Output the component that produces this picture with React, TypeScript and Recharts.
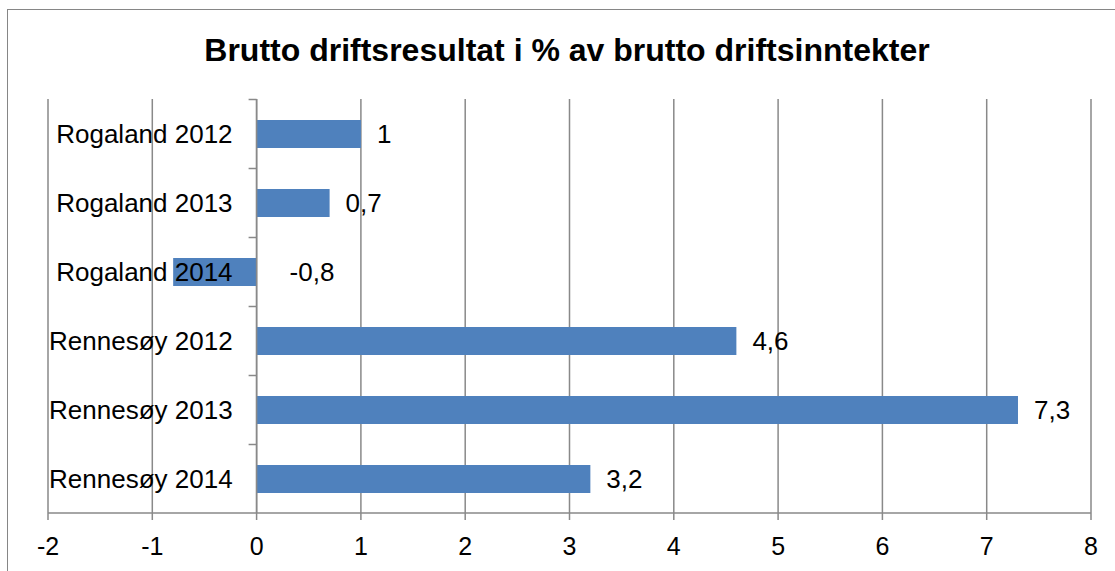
import React from 'react';
import {
  BarChart,
  Bar,
  XAxis,
  YAxis,
  CartesianGrid,
  ReferenceLine,
  LabelList,
} from 'recharts';

const categories = [
  'Rogaland 2012',
  'Rogaland 2013',
  'Rogaland 2014',
  'Rennesøy 2012',
  'Rennesøy 2013',
  'Rennesøy 2014',
];
const values = [1, 0.7, -0.8, 4.6, 7.3, 3.2];
const xTicks = [-2, -1, 0, 1, 2, 3, 4, 5, 6, 7, 8];

const title = 'Brutto driftsresultat i % av brutto driftsinntekter';

const CHART_W = 1115;
const CHART_H = 571;
const MARGIN = { top: 99, right: 24, bottom: 18, left: 48 };
const X_AXIS_H = 40;
const BAND = (CHART_H - MARGIN.top - MARGIN.bottom - X_AXIS_H) / categories.length;

const FONT = '"Liberation Sans", Arial, sans-serif';
const GRID = '#898989';
const BLUE = '#4F81BD';
const LABEL_SIZE = 26;

const data = categories.map((name, i) => ({ name, value: values[i] }));

const formatNo = (v: number) => String(v).replace('.', ',');

// category name drawn left of the zero line, on top of the bars (like Excel)
const CategoryLabel = (props: any) => {
  const { x, y, height, value } = props;
  const cy = y + height / 2;
  const bandTop = cy - BAND / 2;
  return (
    <g>
      <line x1={x - 8} x2={x} y1={bandTop} y2={bandTop} stroke={GRID} strokeWidth={1.5} />
      <text
        x={x - 24}
        y={cy + LABEL_SIZE * 0.34}
        textAnchor="end"
        fontSize={LABEL_SIZE}
        fontFamily={FONT}
        fill="#000"
      >
        {value}
      </text>
    </g>
  );
};

const ValueLabel = (props: any) => {
  const { x, y, width, height, value } = props;
  const cy = y + height / 2;
  const tx = value < 0 ? x + 33 : Math.max(x, x + width) + 16;
  return (
    <text
      x={tx}
      y={cy + LABEL_SIZE * 0.34}
      textAnchor="start"
      fontSize={LABEL_SIZE}
      fontFamily={FONT}
      fill="#000"
    >
      {formatNo(value)}
    </text>
  );
};

export default function App() {
  return (
    <div
      style={{
        position: 'absolute',
        left: 0,
        top: 0,
        width: CHART_W,
        height: CHART_H,
        overflow: 'hidden',
        background: '#fff',
        fontFamily: FONT,
      }}
    >
      <div
        style={{
          position: 'absolute',
          left: 7,
          top: 9,
          width: 1130,
          height: 620,
          border: '1px solid #868686',
          boxSizing: 'border-box',
        }}
      />
      <div
        style={{
          position: 'absolute',
          left: 567,
          top: 35,
          transform: 'translateX(-50%)',
          whiteSpace: 'nowrap',
          fontSize: 32,
          lineHeight: '30px',
          fontWeight: 'bold',
          color: '#000',
        }}
      >
        {title}
      </div>
      <div style={{ position: 'absolute', left: 0, top: 0 }}>
        <BarChart
          width={CHART_W}
          height={CHART_H}
          data={data}
          layout="vertical"
          margin={MARGIN}
        >
          <CartesianGrid horizontal={false} stroke={GRID} strokeWidth={1.5} />
          <XAxis
            type="number"
            domain={[-2, 8]}
            ticks={xTicks}
            interval={0}
            height={X_AXIS_H}
            axisLine={{ stroke: GRID, strokeWidth: 1.5 }}
            tickLine={{ stroke: GRID, strokeWidth: 1.5 }}
            tickSize={7}
            tickMargin={17}
            tick={{ fontSize: 25, fill: '#000', fontFamily: FONT }}
          />
          <YAxis type="category" dataKey="name" hide />
          <ReferenceLine x={0} stroke={GRID} strokeWidth={1.5} />
          <Bar dataKey="value" fill={BLUE} barSize={28} isAnimationActive={false}>
            <LabelList dataKey="name" content={CategoryLabel} />
            <LabelList dataKey="value" content={ValueLabel} />
          </Bar>
        </BarChart>
      </div>
    </div>
  );
}
